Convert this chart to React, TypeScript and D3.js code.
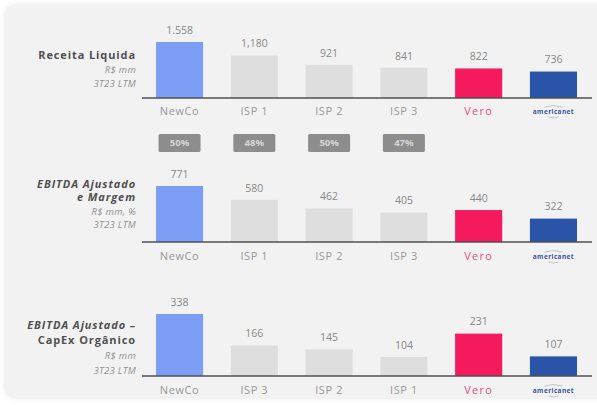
import React from "react";
import * as d3 from "d3";

const W = 597;
const H = 405;

// Panel 1 – net revenue
const revCategories = ["NewCo", "ISP 1", "ISP 2", "ISP 3", "Vero", "americanet"];
const revValues = [1558, 1180, 921, 841, 822, 736];
const revLabels = ["1.558", "1,180", "921", "841", "822", "736"];

// Panel 2 – adjusted EBITDA and margin
const ebitdaCategories = ["NewCo", "ISP 1", "ISP 2", "ISP 3", "Vero", "americanet"];
const ebitdaValues = [771, 580, 462, 405, 440, 322];
const ebitdaLabels = ["771", "580", "462", "405", "440", "322"];
const marginLabels = ["50%", "48%", "50%", "47%"];

// Panel 3 – adjusted EBITDA minus organic capex
const capexCategories = ["NewCo", "ISP 3", "ISP 2", "ISP 1", "Vero", "americanet"];
const capexValues = [338, 166, 145, 104, 231, 107];
const capexLabels = ["338", "166", "145", "104", "231", "107"];

const colorFor = (c: string) =>
  c === "NewCo" ? "#7c9ff5" : c === "Vero" ? "#f5195e" : c === "americanet" ? "#2a54a8" : "#dedede";

type TitleLine = { text: string; bold: boolean; italic: boolean };

const font = "'Open Sans', 'Noto Sans', sans-serif";

const bandScale = (n: number) =>
  d3
    .scaleBand<number>()
    .domain(d3.range(n))
    .range([142, 591])
    .paddingInner(0.37)
    .paddingOuter(0.187);

function CategoryLabel({ name, x, y }: { name: string; x: number; y: number }) {
  if (name === "Vero") {
    return (
      <text x={x} y={y} textAnchor="middle" dominantBaseline="middle" fontFamily={font} fontSize={11} letterSpacing={1.2} fill="#ec4d84">
        Vero
      </text>
    );
  }
  if (name === "americanet") {
    return (
      <g>
        <text x={x} y={y} textAnchor="middle" dominantBaseline="middle" fontFamily={font} fontSize={6.5} letterSpacing={0.4} fontWeight={700} fill="#3a55a0">
          americanet
        </text>
        <path d={`M${x - 9},${y - 5} Q${x},${y - 8} ${x + 9},${y - 5}`} fill="none" stroke="#9aa8c8" strokeWidth={0.6} />
        <path d={`M${x - 5},${y + 5} Q${x},${y + 7} ${x + 5},${y + 5}`} fill="none" stroke="#9aa8c8" strokeWidth={0.6} />
      </g>
    );
  }
  return (
    <text x={x} y={y} textAnchor="middle" dominantBaseline="middle" fontFamily={font} fontSize={11} letterSpacing={0.6} fill="#999999">
      {name}
    </text>
  );
}

function Panel({
  categories,
  values,
  labels,
  baseline,
  maxHeight,
  labelY,
  title,
  titleY,
  lineGap,
}: {
  categories: string[];
  values: number[];
  labels: string[];
  baseline: number;
  maxHeight: number;
  labelY: number;
  title: TitleLine[];
  titleY: number;
  lineGap: number;
}) {
  const x = bandScale(categories.length);
  const y = d3
    .scaleLinear()
    .domain([0, d3.max(values) as number])
    .range([baseline, baseline - maxHeight]);
  const bw = x.bandwidth();
  return (
    <g>
      {values.map((v, i) => (
        <g key={i}>
          <rect x={x(i)} y={y(v)} width={bw} height={baseline - y(v)} fill={colorFor(categories[i])} />
          <text
            x={(x(i) as number) + bw / 2}
            y={y(v) - 11}
            textAnchor="middle"
            dominantBaseline="middle"
            fontFamily={font}
            fontSize={10.5}
            fill="#888888"
          >
            {labels[i]}
          </text>
          <CategoryLabel name={categories[i]} x={(x(i) as number) + bw / 2} y={labelY} />
        </g>
      ))}
      <line x1={142} x2={592} y1={baseline} y2={baseline} stroke="#505050" strokeWidth={1.5} />
      {title.map((t, i) => (
        <text
          key={i}
          x={136}
          y={titleY + i * lineGap}
          textAnchor="end"
          dominantBaseline="middle"
          fontFamily={font}
          fontSize={t.bold ? 11 : 9.5}
          letterSpacing={t.bold ? 0.9 : 0.3}
          fontWeight={t.bold ? 700 : 400}
          fontStyle={t.italic ? "italic" : "normal"}
          fill={t.bold ? "#505050" : "#909090"}
        >
          {t.text}
        </text>
      ))}
    </g>
  );
}

function MarginBadges() {
  const x = bandScale(6);
  const bw = x.bandwidth();
  return (
    <g>
      {marginLabels.map((m, i) => {
        const cx = (x(i) as number) + bw / 2;
        return (
          <g key={i}>
            <rect x={cx - 21} y={134} width={42} height={18} rx={1.5} fill="#8d8d8d" />
            <text
              x={cx}
              y={143.5}
              textAnchor="middle"
              dominantBaseline="middle"
              fontFamily={font}
              fontSize={9.5}
              fontWeight={700}
              fill="#d6d6d6"
            >
              {m}
            </text>
          </g>
        );
      })}
    </g>
  );
}

export default function App() {
  return (
    <svg width={W} height={H} style={{ position: "absolute", left: 0, top: 0, background: "#ffffff" }}>
      <defs>
        <filter id="soft" x="-5%" y="-5%" width="110%" height="110%">
          <feDropShadow dx={0} dy={0} stdDeviation={2} floodColor="#000" floodOpacity={0.07} />
        </filter>
      </defs>
      <rect x={4} y={4} width={W + 20} height={395} rx={12} fill="#f2f2f2" filter="url(#soft)" />
      <Panel
        categories={revCategories}
        values={revValues}
        labels={revLabels}
        baseline={98}
        maxHeight={56}
        labelY={112}
        title={[
          { text: "Receita Liquida", bold: true, italic: false },
          { text: "R$ mm", bold: false, italic: true },
          { text: "3T23 LTM", bold: false, italic: true },
        ]}
        titleY={56}
        lineGap={14}
      />
      <MarginBadges />
      <Panel
        categories={ebitdaCategories}
        values={ebitdaValues}
        labels={ebitdaLabels}
        baseline={242}
        maxHeight={56}
        labelY={257}
        title={[
          { text: "EBITDA Ajustado", bold: true, italic: true },
          { text: "e Margem", bold: true, italic: true },
          { text: "R$ mm, %", bold: false, italic: true },
          { text: "3T23 LTM", bold: false, italic: true },
        ]}
        titleY={185}
        lineGap={13.5}
      />
      <Panel
        categories={capexCategories}
        values={capexValues}
        labels={capexLabels}
        baseline={376}
        maxHeight={62}
        labelY={391}
        title={[
          { text: "EBITDA Ajustado –", bold: true, italic: true },
          { text: "CapEx Orgânico", bold: true, italic: false },
          { text: "R$ mm", bold: false, italic: true },
          { text: "3T23 LTM", bold: false, italic: true },
        ]}
        titleY={326}
        lineGap={15.3}
      />
    </svg>
  );
}
